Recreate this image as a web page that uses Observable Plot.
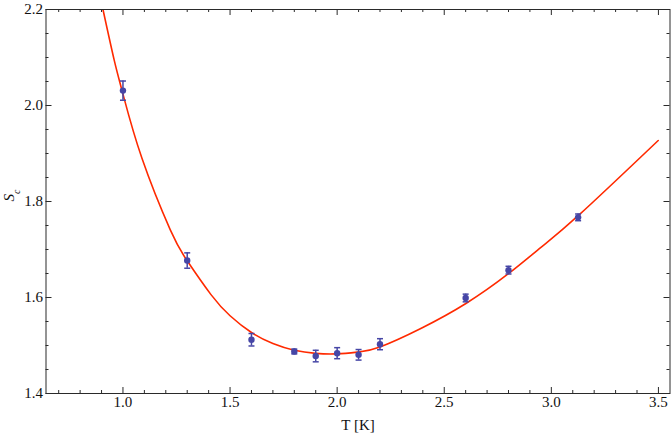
<!DOCTYPE html>
<html><head><meta charset="utf-8">
<script src="https://cdn.jsdelivr.net/npm/d3@7"></script>
<script src="https://cdn.jsdelivr.net/npm/@observablehq/plot@0.6"></script>
<style>body{margin:0;background:#fff} #chart svg{display:block}</style>
</head><body><div id="chart"></div>
<script>
// measured points (temperature, S_c, error)
const temps = [1.0, 1.3, 1.6, 1.8, 1.9, 2.0, 2.1, 2.2, 2.6, 2.8, 3.125];
const scVals = [2.031, 1.677, 1.512, 1.4875, 1.478, 1.484, 1.4806, 1.5027, 1.599, 1.657, 1.767];
const errs = [0.020, 0.016, 0.013, 0.005, 0.012, 0.0115, 0.011, 0.0115, 0.008, 0.008, 0.007];
// fitted curve
const fitT = [0.9067, 0.9594, 1.0, 1.0887, 1.221, 1.299, 1.411, 1.5, 1.6, 1.7, 1.8, 1.9, 2.0, 2.1, 2.2, 2.393, 2.603, 2.798, 2.953, 3.132, 3.499];
const fitS = [2.2, 2.094, 2.024, 1.890, 1.741, 1.677, 1.606, 1.562, 1.527, 1.504, 1.490, 1.4835, 1.4825, 1.4865, 1.497, 1.536, 1.588, 1.649, 1.705, 1.773, 1.927];
const xTicks = [1.0, 1.5, 2.0, 2.5, 3.0, 3.5];
const yTicks = [1.4, 1.6, 1.8, 2.0, 2.2];
const xLabel = "T [K]";
const yLabel = "S";
const ySub = "c";

const xMinor = d3.range(7, 36).filter(i => i % 5 !== 0).map(i => i / 10);
const yMinor = d3.range(28, 45).filter(i => i % 4 !== 0).map(i => i * 0.05);

const points = temps.map((t, i) => ({t, s: scVals[i], lo: scVals[i] - errs[i], hi: scVals[i] + errs[i]}));
const fit = fitT.map((t, i) => ({t, s: fitS[i]}));

const W = 671, H = 436, mL = 45.5, mR = 1.5, mT = 9, mB = 43;
const PW = W - mL - mR, PH = H - mT - mB;
const blue = "#4646a6", red = "#ff2a00", ink = "#2a2a2a";
const font = "'Liberation Serif', 'Times New Roman', Times, serif";
const capSymbol = {draw(ctx, size) { const w = Math.sqrt(size / Math.PI); ctx.moveTo(-w, 0); ctx.lineTo(w, 0); }};
const majLen = 6, minLen = 3;

const chart = Plot.plot({
  width: W, height: H,
  marginLeft: mL, marginRight: mR, marginTop: mT, marginBottom: mB,
  style: {fontFamily: font, fontSize: "15px", color: "#111", background: "white"},
  x: {domain: [0.6407, 3.554], axis: null},
  y: {domain: [1.4, 2.2], axis: null},
  marks: [
    // inward ticks on all four sides
    Plot.tickX(xTicks, {x: d => d, insetTop: PH - majLen, stroke: ink}),
    Plot.tickX(xMinor, {x: d => d, insetTop: PH - minLen, stroke: ink}),
    Plot.tickX(xTicks, {x: d => d, insetBottom: PH - majLen, stroke: ink}),
    Plot.tickX(xMinor, {x: d => d, insetBottom: PH - minLen, stroke: ink}),
    Plot.tickY(yTicks, {y: d => d, insetRight: PW - majLen, stroke: ink}),
    Plot.tickY(yMinor, {y: d => d, insetRight: PW - minLen, stroke: ink}),
    Plot.tickY(yTicks, {y: d => d, insetLeft: PW - majLen, stroke: ink}),
    Plot.tickY(yMinor, {y: d => d, insetLeft: PW - minLen, stroke: ink}),
    Plot.axisX(xTicks, {anchor: "bottom", tickSize: 0, tickPadding: 3, tickFormat: d => d.toFixed(1), label: null}),
    Plot.axisY(yTicks, {anchor: "left", tickSize: 0, tickPadding: 3, tickFormat: d => d.toFixed(1), label: null}),
    Plot.line(fit, {x: "t", y: "s", stroke: red, strokeWidth: 1.6, curve: "natural", clip: true}),
    Plot.ruleX(points, {x: "t", y1: "lo", y2: "hi", stroke: blue, strokeWidth: 1.5}),
    Plot.dot(points, {x: "t", y: "lo", symbol: capSymbol, r: 3, stroke: blue, fill: "none", strokeWidth: 1.5}),
    Plot.dot(points, {x: "t", y: "hi", symbol: capSymbol, r: 3, stroke: blue, fill: "none", strokeWidth: 1.5}),
    Plot.dot(points, {x: "t", y: "s", r: 3.2, fill: blue, stroke: "none"}),
    Plot.frame({stroke: ink, strokeWidth: 1}),
    Plot.text([xLabel], {frameAnchor: "bottom", dy: 32, text: d => d, lineAnchor: "middle", fontSize: 15}),
    Plot.text([yLabel], {frameAnchor: "left", dx: -37, rotate: -90, text: d => d, lineAnchor: "middle", fontSize: 15, fontStyle: "italic"})
  ]
});

// add subscript to the y label
chart.querySelectorAll("text").forEach(t => {
  if (t.textContent === yLabel) {
    const ns = "http://www.w3.org/2000/svg";
    const sub = document.createElementNS(ns, "tspan");
    sub.setAttribute("baseline-shift", "sub");
    sub.setAttribute("font-size", "10");
    sub.textContent = ySub;
    t.appendChild(sub);
  }
});
document.getElementById("chart").appendChild(chart);
</script>
</body></html>
